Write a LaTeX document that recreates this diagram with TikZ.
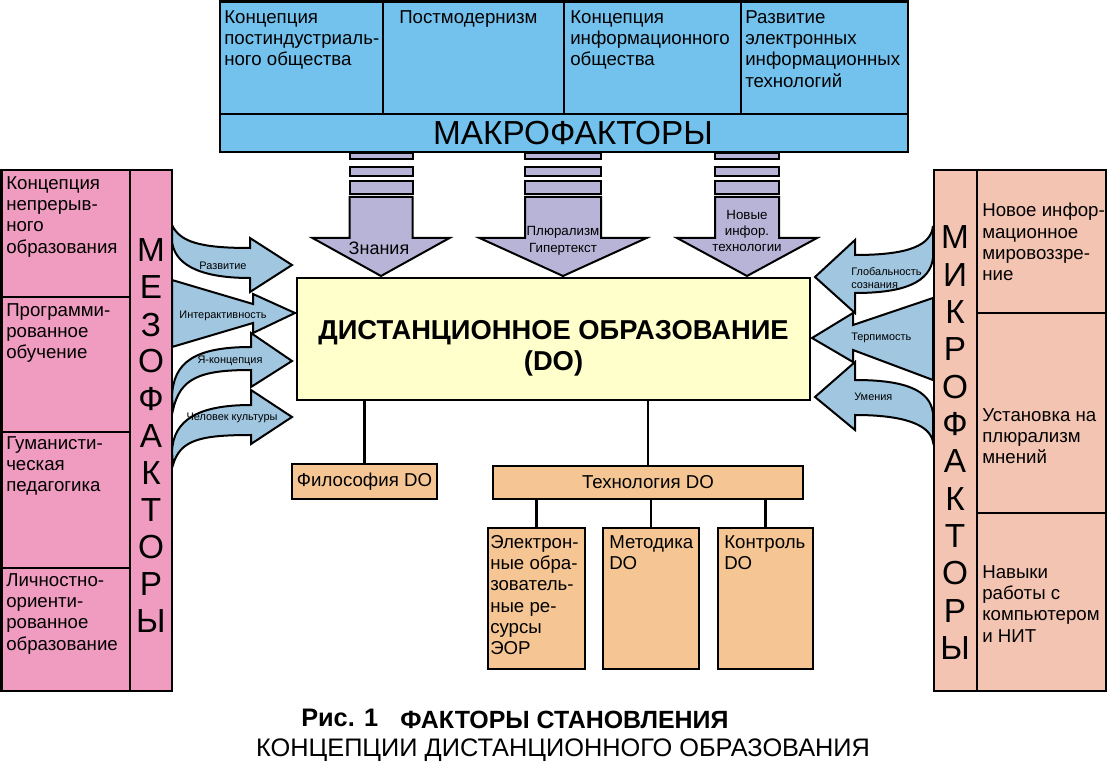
\documentclass[tikz,border=0pt]{standalone}
\usepackage{fontspec}
\setmainfont{Liberation Sans}
\usetikzlibrary{fit}
\definecolor{macroblue}{RGB}{115,194,238}
\definecolor{lav}{RGB}{184,180,216}
\definecolor{doyel}{RGB}{255,255,204}
\definecolor{peach}{RGB}{245,198,148}
\definecolor{mesopink}{RGB}{240,156,192}
\definecolor{microsal}{RGB}{244,196,178}
\definecolor{arrblue}{RGB}{160,198,224}
\begin{document}
\begin{tikzpicture}[x=0.75pt,y=-0.75pt,
  bx/.style={draw=black,line width=2pt,inner sep=0pt},
  thinbx/.style={draw=black,line width=1.6pt,inner sep=0pt},
  celltext/.style={font=\fontsize{14}{16}\selectfont,align=left,anchor=north west,inner sep=0pt},
  vlet/.style={font=\fontsize{25}{25}\selectfont,anchor=base,inner sep=0pt},
  sarrow/.style={fill=arrblue,draw=black,line width=1.5pt,line join=miter},
  smalllab/.style={font=\fontsize{8.2}{9.5}\selectfont,inner sep=0pt},
  conn/.style={draw=black,line width=1.6pt},
  mstripe/.style={fill=lav,draw=black,line width=1.5pt},
]
\useasboundingbox (0,0) rectangle (1108,763);
\fill[white] (0,0) rectangle (1108,763);

% ---------- macro factors (top) ----------
\foreach \cx/\sw/\hw [count=\k] in {381/31.5/68.5, 563/38/83.5, 747/32/70} {
  \draw[mstripe] ({\cx-\sw},153) rectangle ({\cx+\sw},159);
  \draw[mstripe] ({\cx-\sw},167) rectangle ({\cx+\sw},176);
  \draw[mstripe] ({\cx-\sw},181) rectangle ({\cx+\sw},194);
  \draw[mstripe] ({\cx-\sw},197) -- ({\cx+\sw},197) -- ({\cx+\sw},238) -- ({\cx+\hw},238)
     -- (\cx,276) -- ({\cx-\hw},238) -- ({\cx-\sw},238) -- cycle;
}
\node[bx,fill=macroblue,fit={(220,1.5) (383,114)}] (c1) {};
\node[bx,fill=macroblue,fit={(383,1.5) (564,114)}] (c2) {};
\node[bx,fill=macroblue,fit={(564,1.5) (741,114)}] (c3) {};
\node[bx,fill=macroblue,fit={(741,1.5) (908,114)}] (c4) {};
\node[bx,fill=macroblue,fit={(220,114) (908,152)}] (band) {};
\node[font=\fontsize{25}{25}\selectfont,inner sep=0pt] (macrolab) at (573,133) {МАКРОФАКТОРЫ};
\node[celltext] (t1) at (224,10) {Концепция\\постиндустриаль-\\ного общества};
\node[celltext] (t2) at (399,10) {Постмодернизм};
\node[celltext] (t3) at (570,10) {Концепция\\информационного\\общества};
\node[celltext] (t4) at (745,10) {Развитие\\электронных\\информационных\\технологий};

\node[font=\fontsize{13.5}{13.5}\selectfont,inner sep=0pt] (a1lab) at (379,248) {Знания};
\node[font=\fontsize{10}{12.75}\selectfont,align=center,inner sep=0pt] (a2lab) at (563,241) {Плюрализм\\Гипертекст};
\node[font=\fontsize{10}{12}\selectfont,align=center,inner sep=0pt] (a3lab) at (747,231) {Новые\\инфор.\\технологии};

% ---------- meso arrows (left) ----------
\draw[sarrow] (172,225) .. controls (180,242) and (200,248) .. (250,248) -- (250,238) -- (292,265)
   -- (250,292) -- (250,278) .. controls (195,278) and (174,262) .. (172,241) -- cycle;
\draw[sarrow] (172,280) -- (253,304) -- (253,294) -- (295,313) -- (253,333) -- (253,323) -- (172,347) -- cycle;
\draw[sarrow] (251,347) -- (251,333) -- (292,361) -- (251,387) -- (251,370)
   .. controls (200,370) and (180,378) .. (173,410) -- (172,397)
   .. controls (173,362) and (195,347) .. (251,347) -- cycle;
\draw[sarrow] (251,405) -- (251,390) -- (292,417) -- (251,444) -- (251,435)
   .. controls (200,435) and (180,440) .. (173,465) -- (172,452)
   .. controls (173,420) and (198,405) .. (251,405) -- cycle;
\node[smalllab] (l1lab) at (223,266) {Развитие};
\node[smalllab] (l2lab) at (223,316) {Интерактивность};
\node[smalllab] (l3lab) at (230,361) {Я-концепция};
\node[smalllab] (l4lab) at (232,418) {Человек культуры};

% ---------- micro arrows (right) ----------
\draw[sarrow] (815,277) -- (855,240) -- (855,255) .. controls (910,255) and (931,245) .. (933,226)
   -- (933,258) .. controls (930,282) and (905,293) .. (855,293) -- (855,313) -- cycle;
\draw[sarrow] (933,298) -- (853,325) -- (853,313) -- (812,338) -- (853,362) -- (853,350) -- (933,380) -- cycle;
\draw[sarrow] (815,397) -- (855,362) -- (855,380) .. controls (905,380) and (930,390) .. (933,413)
   -- (933,442) .. controls (930,425) and (905,415) .. (855,415) -- (855,430) -- cycle;
\node[smalllab,align=left,anchor=west] (r1lab) at (851,278) {Глобальность\\сознания};
\node[smalllab,anchor=west] (r2lab) at (851,338) {Терпимость};
\node[smalllab,anchor=west] (r3lab) at (854,397) {Умения};

% ---------- meso box (left) ----------
\node[thinbx,fill=mesopink,fit={(1.5,170) (130,297)}] (l1) {};
\node[thinbx,fill=mesopink,fit={(1.5,297) (130,432)}] (l2) {};
\node[thinbx,fill=mesopink,fit={(1.5,432) (130,568)}] (l3) {};
\node[thinbx,fill=mesopink,fit={(1.5,568) (130,691)}] (l4) {};
\node[thinbx,fill=mesopink,fit={(130,170) (172,691)}] (lcol) {};
\node[bx,fit={(1.5,170) (172,691)}] (meso) {};
\node[celltext] (lt1) at (6,176) {Концепция\\непрерыв-\\ного\\образования};
\node[celltext] (lt2) at (6,303) {Программи-\\рованное\\обучение};
\node[celltext] (lt3) at (6,436) {Гуманисти-\\ческая\\педагогика};
\node[celltext] (lt4) at (6,573) {Личностно-\\ориенти-\\рованное\\образование};
\foreach \l [count=\i] in {М,Е,З,О,Ф,А,К,Т,О,Р,Ы}
  \node[vlet] (ml\i) at (151,{250+37*(\i-1)+12}) {\l};

% ---------- micro box (right) ----------
\node[thinbx,fill=microsal,fit={(934,170) (977,691)}] (rcol) {};
\node[thinbx,fill=microsal,fit={(977,170) (1106,313)}] (r1) {};
\node[thinbx,fill=microsal,fit={(977,313) (1106,513)}] (r2) {};
\node[thinbx,fill=microsal,fit={(977,513) (1106,691)}] (r3) {};
\node[bx,fit={(934,170) (1106,691)}] (micro) {};
\node[celltext] (rt1) at (982,203) {Новое инфор-\\мационное\\мировоззре-\\ние};
\node[celltext] (rt2) at (982,408) {Установка на\\плюрализм\\мнений};
\node[celltext] (rt3) at (982,565) {Навыки\\работы с\\компьютером\\и НИТ};
\foreach \l [count=\i] in {М,И,К,Р,О,Ф,А,К,Т,О,Р,Ы}
  \node[vlet] (mr\i) at (955,{237+37.3*(\i-1)+12}) {\l};

% ---------- central box ----------
\node[bx,fill=doyel,fit={(297,278) (810,400)}] (do) {};
\node[font=\bfseries\fontsize{20.5}{23.25}\selectfont,align=center,inner sep=0pt] (dotext) at (553.5,348)
  {ДИСТАНЦИОННОЕ ОБРАЗОВАНИЕ\\(DO)};

% ---------- lower boxes ----------
\node[bx,fill=peach,fit={(292,464) (437,499)}] (phil) {};
\node[bx,fill=peach,fit={(493,466) (803,499)}] (tech) {};
\node[font=\fontsize{14}{16}\selectfont,inner sep=0pt] (philt) at (phil.center) {Философия DO};
\node[font=\fontsize{14}{16}\selectfont,inner sep=0pt] (techt) at (tech.center) {Технология DO};
\node[bx,fill=peach,fit={(488,528) (585,669)}] (eor) {};
\node[bx,fill=peach,fit={(603,528) (699,669)}] (met) {};
\node[bx,fill=peach,fit={(718,528) (813,669)}] (ctrl) {};
\node[celltext] (eort) at (490,535) {Электрон-\\ные обра-\\зователь-\\ные ре-\\сурсы\\ЭОР};
\node[celltext] (mett) at (609,535) {Методика\\DO};
\node[celltext] (ctrlt) at (724,535) {Контроль\\DO};

\draw[conn] (phil.north) -- (phil.north |- do.south);
\draw[conn] (tech.north) -- (tech.north |- do.south);
\draw[conn] (eor.north) -- (eor.north |- tech.south);
\draw[conn] (met.north) -- (met.north |- tech.south);
\draw[conn] (ctrl.north) -- (ctrl.north |- tech.south);

% ---------- caption ----------
\node[font=\bfseries\fontsize{19}{19}\selectfont,anchor=west,inner sep=0pt] (cap1) at (301,718) {Рис. 1};
\node[font=\bfseries\fontsize{18.7}{18.7}\selectfont,anchor=west,inner sep=0pt] (cap2) at (400,720) {ФАКТОРЫ СТАНОВЛЕНИЯ};
\node[font=\fontsize{19}{19}\selectfont,inner sep=0pt] (cap3) at (563,750) {КОНЦЕПЦИИ ДИСТАНЦИОННОГО ОБРАЗОВАНИЯ};
\end{tikzpicture}
\end{document}
